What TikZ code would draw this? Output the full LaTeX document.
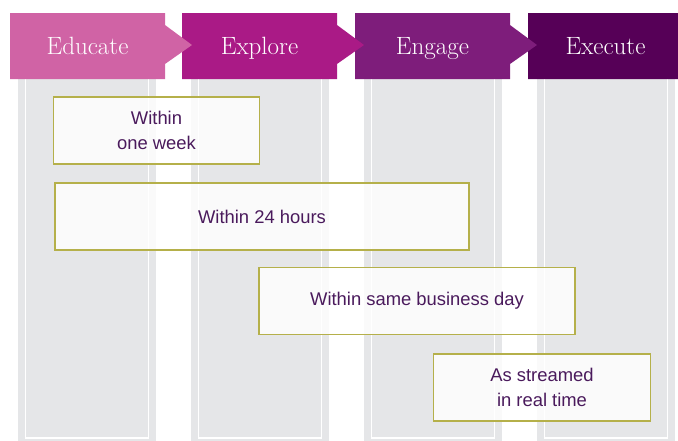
\documentclass[tikz,border=0pt]{standalone}
\usepackage{fontspec}
\setsansfont{Liberation Sans}
\usepackage{tikz}
\usetikzlibrary{positioning}

\definecolor{educol}{HTML}{D063A5}
\definecolor{expcol}{HTML}{AA1A86}
\definecolor{engcol}{HTML}{7E1D7B}
\definecolor{execol}{HTML}{560057}
\definecolor{colgray}{HTML}{E5E6E8}
\definecolor{boxline}{HTML}{B5B04A}
\definecolor{boxtext}{HTML}{4A1A5C}

\tikzset{
  phase/.style={text=white, anchor=base, font=\fontsize{25}{28}\selectfont},
  slot/.style={draw=boxline, line width=1.2pt, fill=white, fill opacity=0.82,
    text opacity=1, text=boxtext, align=center, minimum height=67pt,
    font=\sffamily\fontsize{18.4}{25}\selectfont, inner sep=0pt}
}

\begin{document}
\begin{tikzpicture}[x=1pt, y=-1pt]
    \useasboundingbox (0,0) rectangle (678,440);

    % Spalten
    \foreach \c in {18,191,364,537} {
        \fill[colgray] (\c,79) rectangle (\c+138,445);
        \draw[white, line width=1.5pt] (\c+7.5,70) rectangle (\c+130.5,438);
    }

    % Kopfzeile mit Pfeilen
    \foreach \x/\col/\name/\lbl in {528/execol/exe/Execute, 355/engcol/eng/Engage,
                                   182/expcol/exp/Explore, 10/educol/edu/Educate} {
        \fill[\col] (\x,13) -- (\x+155,13) -- (\x+155,25) -- (\x+182,45)
            -- (\x+155,64) -- (\x+155,79) -- (\x,79) -- cycle;
        \node[phase] (\name) at (\x+77.5,54) {\lbl};
    }

    % Zeitfenster
    \node[slot, minimum width=206pt] (week) at (156.5,130.5) {Within\\one week};
    \node[slot, minimum width=414pt] (hours) at (262,216.5) {Within 24 hours};
    \node[slot, minimum width=316pt] (day) at (417,301) {Within same business day};
    \node[slot, minimum width=217pt] (live) at (542,387.5) {As streamed\\in real time};
\end{tikzpicture}
\end{document}
